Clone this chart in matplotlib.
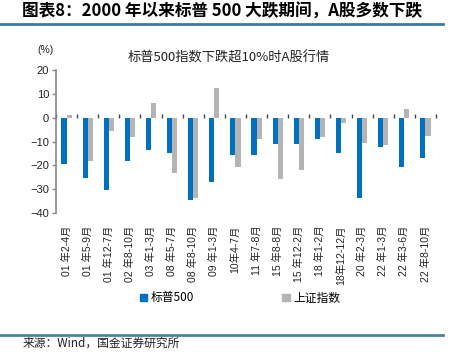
import matplotlib
matplotlib.use("Agg")
import matplotlib.pyplot as plt
import numpy as np
from matplotlib.lines import Line2D
from matplotlib.patches import Patch

categories = ["01 年2-4月", "01 年5-9月", "01 年12-7月", "02 年8-10月", "03 年1-3月",
              "08 年5-7月", "08 年8-10月", "09 年1-3月", "10年4-7月", "11 年7-8月",
              "15 年8-8月", "15 年12-2月", "18 年1-2月", "18年12-12月", "20 年2-3月",
              "22 年1-3月", "22 年3-6月", "22 年8-10月"]
sp500 = [-19.3, -25.2, -30.2, -18.0, -13.6, -14.8, -34.5, -27.1, -15.5, -15.5,
         -11.2, -11.0, -9.1, -14.8, -33.8, -12.4, -20.7, -16.9]
sse = [1.1, -18.0, -5.5, -8.3, 6.0, -23.4, -33.8, 12.6, -20.7, -8.8,
       -25.7, -21.8, -8.0, -2.4, -10.5, -11.5, 3.5, -7.7]
yticks = [20, 10, 0, -10, -20, -30, -40]

CJK = ['Noto Sans CJK SC', 'DejaVu Sans']
LAT = ['Liberation Sans', 'Noto Sans CJK SC']
plt.rcParams['font.family'] = LAT

fig = plt.figure(figsize=(4.58, 3.53), dpi=100)
W, H = 458, 353
ax = fig.add_axes([56 / W, 1 - 213 / H, (436 - 56) / W, (213 - 70) / H])

x = np.arange(len(categories))
bw = 0.24
blue = '#0070C0'
gray = '#B4B4B4'
ax.bar(x - bw / 2, sp500, width=bw, color=blue, label='标普500', zorder=2)
ax.bar(x + bw / 2, sse, width=bw, color=gray, label='上证指数', zorder=2)

ax.set_xlim(-0.5, len(categories) - 0.5)
ax.set_ylim(-40, 20)
ax.set_yticks(yticks)
ax.set_yticklabels([str(v).replace('-', '\u2212') for v in yticks], fontsize=8, color='#222222')
ax.tick_params(axis='y', direction='out', length=3, width=1, color='#888888', pad=2)

for s in ['top', 'right', 'bottom']:
    ax.spines[s].set_visible(False)
ax.spines['left'].set_color('#888888')
ax.spines['left'].set_linewidth(1.2)

ax.set_xticks(x)
ax.set_xticklabels(categories, rotation=90, fontsize=7.5, family=LAT, color='#222222')
ax.tick_params(axis='x', length=0, pad=9)

sec = ax.secondary_xaxis(40 / 60)
sec.set_xticks(np.arange(len(categories) + 1) - 0.5)
sec.set_xticklabels([])
sec.tick_params(axis='x', direction='out', length=3, width=1, color='#444444')
sec.spines['bottom'].set_color('#555555')
sec.spines['bottom'].set_linewidth(1.0)
for s in ['top', 'left', 'right']:
    sec.spines[s].set_visible(False)

fig.text(37 / W, 1 - 50 / H, '(%)', fontsize=7.5, ha='left', va='center', color='#222222')
fig.text(229 / W, 1 - 58 / H, '标普500指数下跌超10%时A股行情', fontsize=9.5,
         ha='center', va='center', family=CJK, color='#222222')

fig.text(22 / W, 1 - 12 / H, '图表8：2000 年以来标普 500 大跌期间，A股多数下跌', fontsize=12,
         fontweight='bold', ha='left', va='center', family=CJK, color='black')
fig.add_artist(Line2D([0, 443 / W], [1 - 24 / H, 1 - 24 / H], transform=fig.transFigure,
                      color='#3D7C9C', linewidth=2))
fig.add_artist(Line2D([0, 443 / W], [1 - 335 / H, 1 - 335 / H], transform=fig.transFigure,
                      color='#4A859F', linewidth=2))
fig.text(23 / W, 1 - 343 / H, '来源：Wind，国金证券研究所', fontsize=8.5, ha='left', va='center',
         family=CJK, color='#222222')

handles = [Patch(color=blue), Patch(color=gray)]
leg = fig.legend(handles, ['标普500', '上证指数'], loc='center', bbox_to_anchor=(240 / W, 1 - 298 / H),
                 ncol=2, frameon=False, prop={'family': CJK, 'size': 8.5}, handlelength=0.6,
                 handleheight=0.6, handletextpad=0.3, columnspacing=7.5)

fig.savefig('out.png', dpi=100)
